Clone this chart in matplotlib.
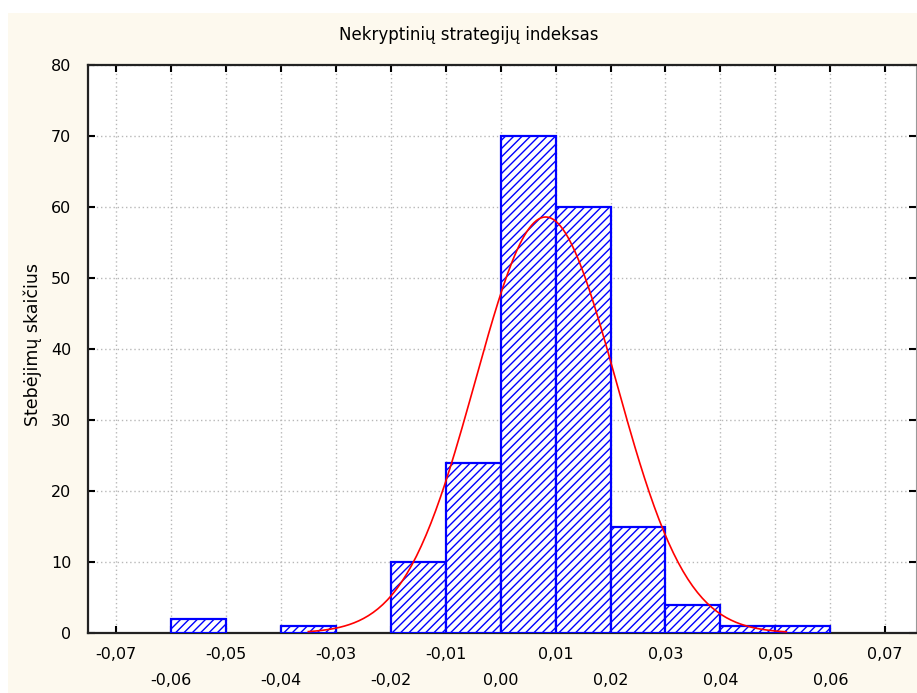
import matplotlib.pyplot as plt
import matplotlib.patches as mpatches
import numpy as np

# histogram data
bin_left = [-0.06, -0.04, -0.02, -0.01, 0.00, 0.01, 0.02, 0.03, 0.04, 0.05]
counts = [2, 1, 10, 24, 70, 60, 15, 4, 1, 1]
bin_width = 0.01

# fitted normal curve
fit_mean = 0.0082
fit_sd = 0.0128
fit_from, fit_to = -0.035, 0.052

major_ticks = [-0.07, -0.05, -0.03, -0.01, 0.01, 0.03, 0.05, 0.07]
minor_ticks = [-0.06, -0.04, -0.02, 0.00, 0.02, 0.04, 0.06]
y_ticks = [0, 10, 20, 30, 40, 50, 60, 70, 80]

plt.rcParams['hatch.linewidth'] = 1.0
plt.rcParams['font.family'] = 'DejaVu Sans'

fig = plt.figure(figsize=(9.17, 6.93), dpi=100, facecolor='white')
# cream panel behind the chart
fig.patches.append(mpatches.Rectangle((8/917, 0), 1, 1 - 13/693, transform=fig.transFigure,
                                      facecolor='#fdf9ee', edgecolor='none', zorder=-10))

ax = fig.add_axes([88/917, 60/693, 828/917, 568/693])
ax.set_facecolor('white')

ax.bar(bin_left, counts, width=bin_width, align='edge', facecolor='white',
       edgecolor='#0000ff', hatch='////', linewidth=1.6, zorder=3)

xs = np.linspace(fit_from, fit_to, 200)
total = sum(counts)
ys = total * bin_width / (fit_sd * np.sqrt(2 * np.pi)) * np.exp(-0.5 * ((xs - fit_mean) / fit_sd) ** 2)
ax.plot(xs, ys, color='#ff0000', linewidth=1.2, zorder=4)

ax.set_xlim(-0.0751, 0.0756)
ax.set_ylim(0, 80)

def fmt(v):
    return ('%.2f' % v).replace('.', ',').replace('-0,00', '0,00')

ax.set_xticks(major_ticks)
ax.set_xticklabels([fmt(v) for v in major_ticks])
ax.set_xticks(minor_ticks, minor=True)
ax.set_xticklabels([fmt(v) for v in minor_ticks], minor=True)
ax.set_yticks(y_ticks)

ax.tick_params(axis='x', which='major', direction='in', length=5, width=1.5,
               top=True, pad=10, labelsize=11.5)
ax.tick_params(axis='x', which='minor', direction='in', length=5, width=1.5,
               top=True, pad=29, labelsize=11.5)
ax.tick_params(axis='y', direction='in', length=5, width=1.5, right=True,
               pad=12, labelsize=11.5)

ax.grid(True, which='both', color='#b8b8b8', linestyle=(0, (1, 2)), linewidth=1, zorder=0)
ax.set_axisbelow(True)

for side in ['left', 'bottom', 'top']:
    ax.spines[side].set_linewidth(1.6)
    ax.spines[side].set_color('#222222')
ax.spines['right'].set_color('#999999')

fig.text(469/917, 1 - 35/693, 'Nekryptinių strategijų indeksas', ha='center', va='center', fontsize=12)
fig.text(33/917, 1 - 345/693, 'Stebėjimų skaičius', ha='center', va='center', rotation=90, fontsize=12.5)

plt.savefig('out.png', dpi=100, facecolor=fig.get_facecolor())
